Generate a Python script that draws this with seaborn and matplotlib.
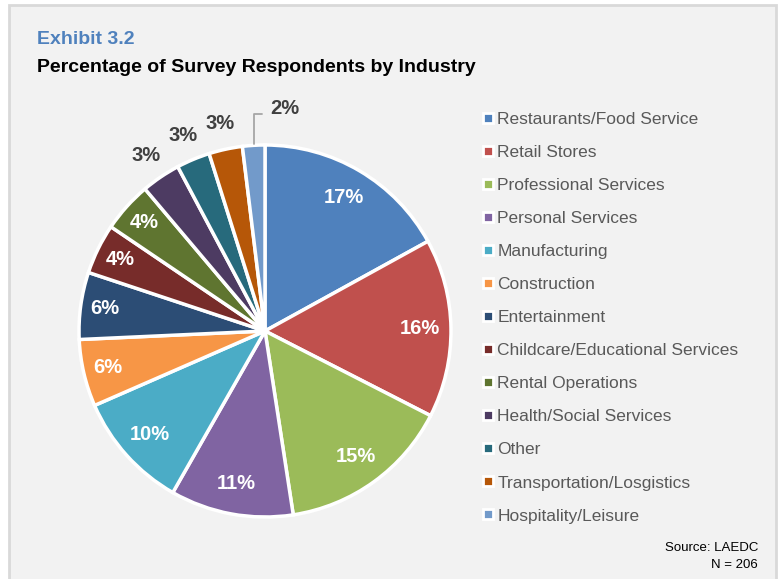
import matplotlib
matplotlib.use("Agg")
import matplotlib.pyplot as plt
from matplotlib.patches import Rectangle
from matplotlib.lines import Line2D
import numpy as np
import seaborn as sns

categories = ["Restaurants/Food Service", "Retail Stores", "Professional Services",
              "Personal Services", "Manufacturing", "Construction", "Entertainment",
              "Childcare/Educational Services", "Rental Operations",
              "Health/Social Services", "Other", "Transportation/Losgistics",
              "Hospitality/Leisure"]
# respondent counts (N = 206)
counts = [35, 32, 31, 22, 21, 12, 12, 9, 9, 7, 6, 6, 4]
N = 206
colors_hex = ["#4F81BD", "#C0504D", "#9BBB59", "#8064A2", "#4BACC6", "#F79646",
              "#2C4D75", "#772C2A", "#5F7530", "#4D3B62", "#276A7C", "#B65708",
              "#729ACA"]
title_top = "Exhibit 3.2"
title_main = "Percentage of Survey Respondents by Industry"
source_lines = ["Source: LAEDC", f"N = {N}"]

sns.set_theme(style="white")
plt.rcParams["font.family"] = ["Liberation Sans", "DejaVu Sans"]
palette = sns.color_palette(colors_hex)

W, H = 778, 579
fig = plt.figure(figsize=(W / 100, H / 100), dpi=100, facecolor="white")

# panel background with border
fig.patches.append(Rectangle((8.5 / W, -0.05), (775.5 - 8.5) / W, (H - 4.5) / H + 0.05,
                             transform=fig.transFigure, facecolor="#F2F2F2",
                             edgecolor="#D9D9D9", linewidth=2, zorder=-10))

cx, cy, R = 265, 331, 186
ax = fig.add_axes([(cx - R) / W, (H - cy - R) / H, 2 * R / W, 2 * R / H])
ax.set_facecolor("none")

wedges, _ = ax.pie(counts, colors=palette, startangle=90, counterclock=False,
                   radius=1.0, wedgeprops=dict(edgecolor="white", linewidth=2.5))
ax.set_xlim(-1, 1)
ax.set_ylim(-1, 1)
ax.set_aspect("equal")
ax.axis("off")

LBL = 14.5
n = len(counts)
for i, (w, c) in enumerate(zip(wedges, counts)):
    ang = np.deg2rad((w.theta1 + w.theta2) / 2.0)
    txt = f"{round(100 * c / N)}%"
    if i < 9:
        d = 0.835 if c >= 20 else 0.87
        ax.text(d * np.cos(ang), d * np.sin(ang), txt, ha="center", va="center",
                color="white", fontsize=LBL, fontweight="bold", clip_on=False)
    elif i < n - 1:
        d = 1.14
        ax.text(d * np.cos(ang), d * np.sin(ang), txt, ha="center", va="center",
                color="#404040", fontsize=LBL, fontweight="bold", clip_on=False)
    else:
        x0, y0 = np.cos(ang), np.sin(ang)
        ax.annotate(txt, xy=(x0, y0), xytext=(x0 + 0.087, y0 + 0.2),
                    ha="left", va="center", color="#404040", fontsize=LBL,
                    fontweight="bold", annotation_clip=False,
                    arrowprops=dict(arrowstyle="-", color="#A6A6A6", lw=1.3,
                                    connectionstyle="angle,angleA=0,angleB=90,rad=0",
                                    relpos=(0, 0.2), shrinkA=3, shrinkB=1))

handles = [Line2D([0], [0], marker="s", linestyle="none", markersize=6.5,
                  markerfacecolor=c, markeredgecolor="white", markeredgewidth=2)
           for c in palette]
leg = fig.legend(handles, categories, loc="upper left",
                 bbox_to_anchor=(481 / W, 1 - 112 / H), frameon=False,
                 fontsize=12.5, labelspacing=1.03, handlelength=0.8,
                 handletextpad=0.15, borderaxespad=0, borderpad=0)
for t in leg.get_texts():
    t.set_color("#595959")

fig.text(37 / W, 1 - 40 / H, title_top, ha="left", va="center", color="#4F81BD",
         fontsize=14, fontweight="bold")
fig.text(37 / W, 1 - 68 / H, title_main, ha="left", va="center", color="black",
         fontsize=14, fontweight="bold")
fig.text(758 / W, 1 - 548 / H, source_lines[0], ha="right", va="center",
         color="black", fontsize=9.5)
fig.text(758 / W, 1 - 565 / H, source_lines[1], ha="right", va="center",
         color="black", fontsize=9.5)

fig.savefig("out.png", dpi=100, facecolor=fig.get_facecolor())
